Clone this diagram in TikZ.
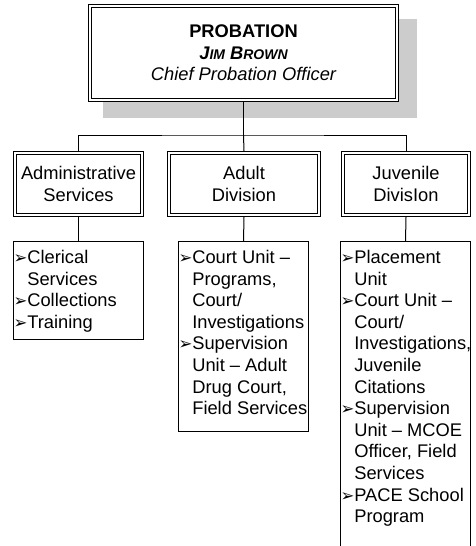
\documentclass[tikz,border=0pt]{standalone}
\usepackage{fontspec}
\setmainfont{Liberation Sans}
\newfontfamily\dingfont{DejaVu Sans}
\usetikzlibrary{positioning}

\newcommand{\itm}{\smash{\dingfont\fontsize{16.5}{16.5}\selectfont ➢}}
\newcommand{\cnt}{\phantom{\itm}}

\begin{document}
\begin{tikzpicture}[x=1pt, y=-1pt,
    every node/.style={font=\fontsize{18.3}{21.6}\selectfont, inner sep=0pt, outer sep=0pt},
    headbox/.style={draw, double, line width=1.1pt, double distance=1.8pt, fill=white,
        outer sep=2pt, minimum width=307pt, minimum height=94pt, align=center},
    divbox/.style={draw, double, line width=1.1pt, double distance=1.8pt,
        outer sep=2pt, minimum height=62pt, align=center},
    unitbox/.style={draw, line width=1.3pt, anchor=north, minimum width=130pt},
    unittext/.style={anchor=north west, align=left},
    link/.style={line width=1pt}]
    \useasboundingbox (0,0) rectangle (476,546);
    \clip (0,0) rectangle (476,546);

    % shadow of the top box
    \fill [black!20] (103,19) rectangle (417,118);
    \node [headbox] (chief) at (243.5,53) {{\bfseries PROBATION}\\
        {\bfseries\itshape J{\fontsize{14}{14}\selectfont IM} B{\fontsize{14}{14}\selectfont ROWN}}\\
        {\itshape Chief Probation Officer}};

    % divisions
    \node [divbox, minimum width=127pt] (admin) at (78.5,184) {Administrative\\Services};
    \node [divbox, minimum width=150pt] (adult) at (244,184) {Adult\\Division};
    \node [divbox, minimum width=126pt] (juvenile) at (406,184) {Juvenile\\DivisIon};

    % units
    \node [unitbox, minimum height=97.8pt] (adminlist) at (78.5,241.6) {};
    \node [unitbox, minimum height=190pt] (adultlist) at (243.5,241.6) {};
    \node [unitbox, minimum height=320pt] (juvenilelist) at (405.5,241.6) {};

    \node [unittext] (admintext) at ([xshift=0pt, yshift=-8.7pt]adminlist.north west)
        {\itm Clerical\\\cnt Services\\\itm Collections\\\itm Training};
    \node [unittext] (adulttext) at ([xshift=0pt, yshift=-8.7pt]adultlist.north west)
        {\itm Court Unit --\\\cnt Programs,\\\cnt Court/\\\cnt Investigations\\
         \itm Supervision\\\cnt Unit -- Adult\\\cnt Drug Court,\\\cnt Field Services};
    \node [unittext] (juveniletext) at ([xshift=0pt, yshift=-8.7pt]juvenilelist.north west)
        {\itm Placement\\\cnt Unit\\\itm Court Unit --\\\cnt Court/\\\cnt Investigations,\\
         \cnt Juvenile\\\cnt Citations\\\itm Supervision\\\cnt Unit -- MCOE\\
         \cnt Officer, Field\\\cnt Services\\\itm PACE School\\\cnt Program};

    % connectors
    \coordinate (bus) at (243.5,135);
    \draw [link] (chief.south) -- (bus);
    \draw [link] (admin.north) |- (bus) -| (juvenile.north);
    \draw [link] (bus) -- (adult.north);
    \draw [link] (admin.south) -- (adminlist.north);
    \draw [link] (adult.south) -- (adultlist.north);
    \draw [link] (juvenile.south) -- (juvenilelist.north);
\end{tikzpicture}
\end{document}
